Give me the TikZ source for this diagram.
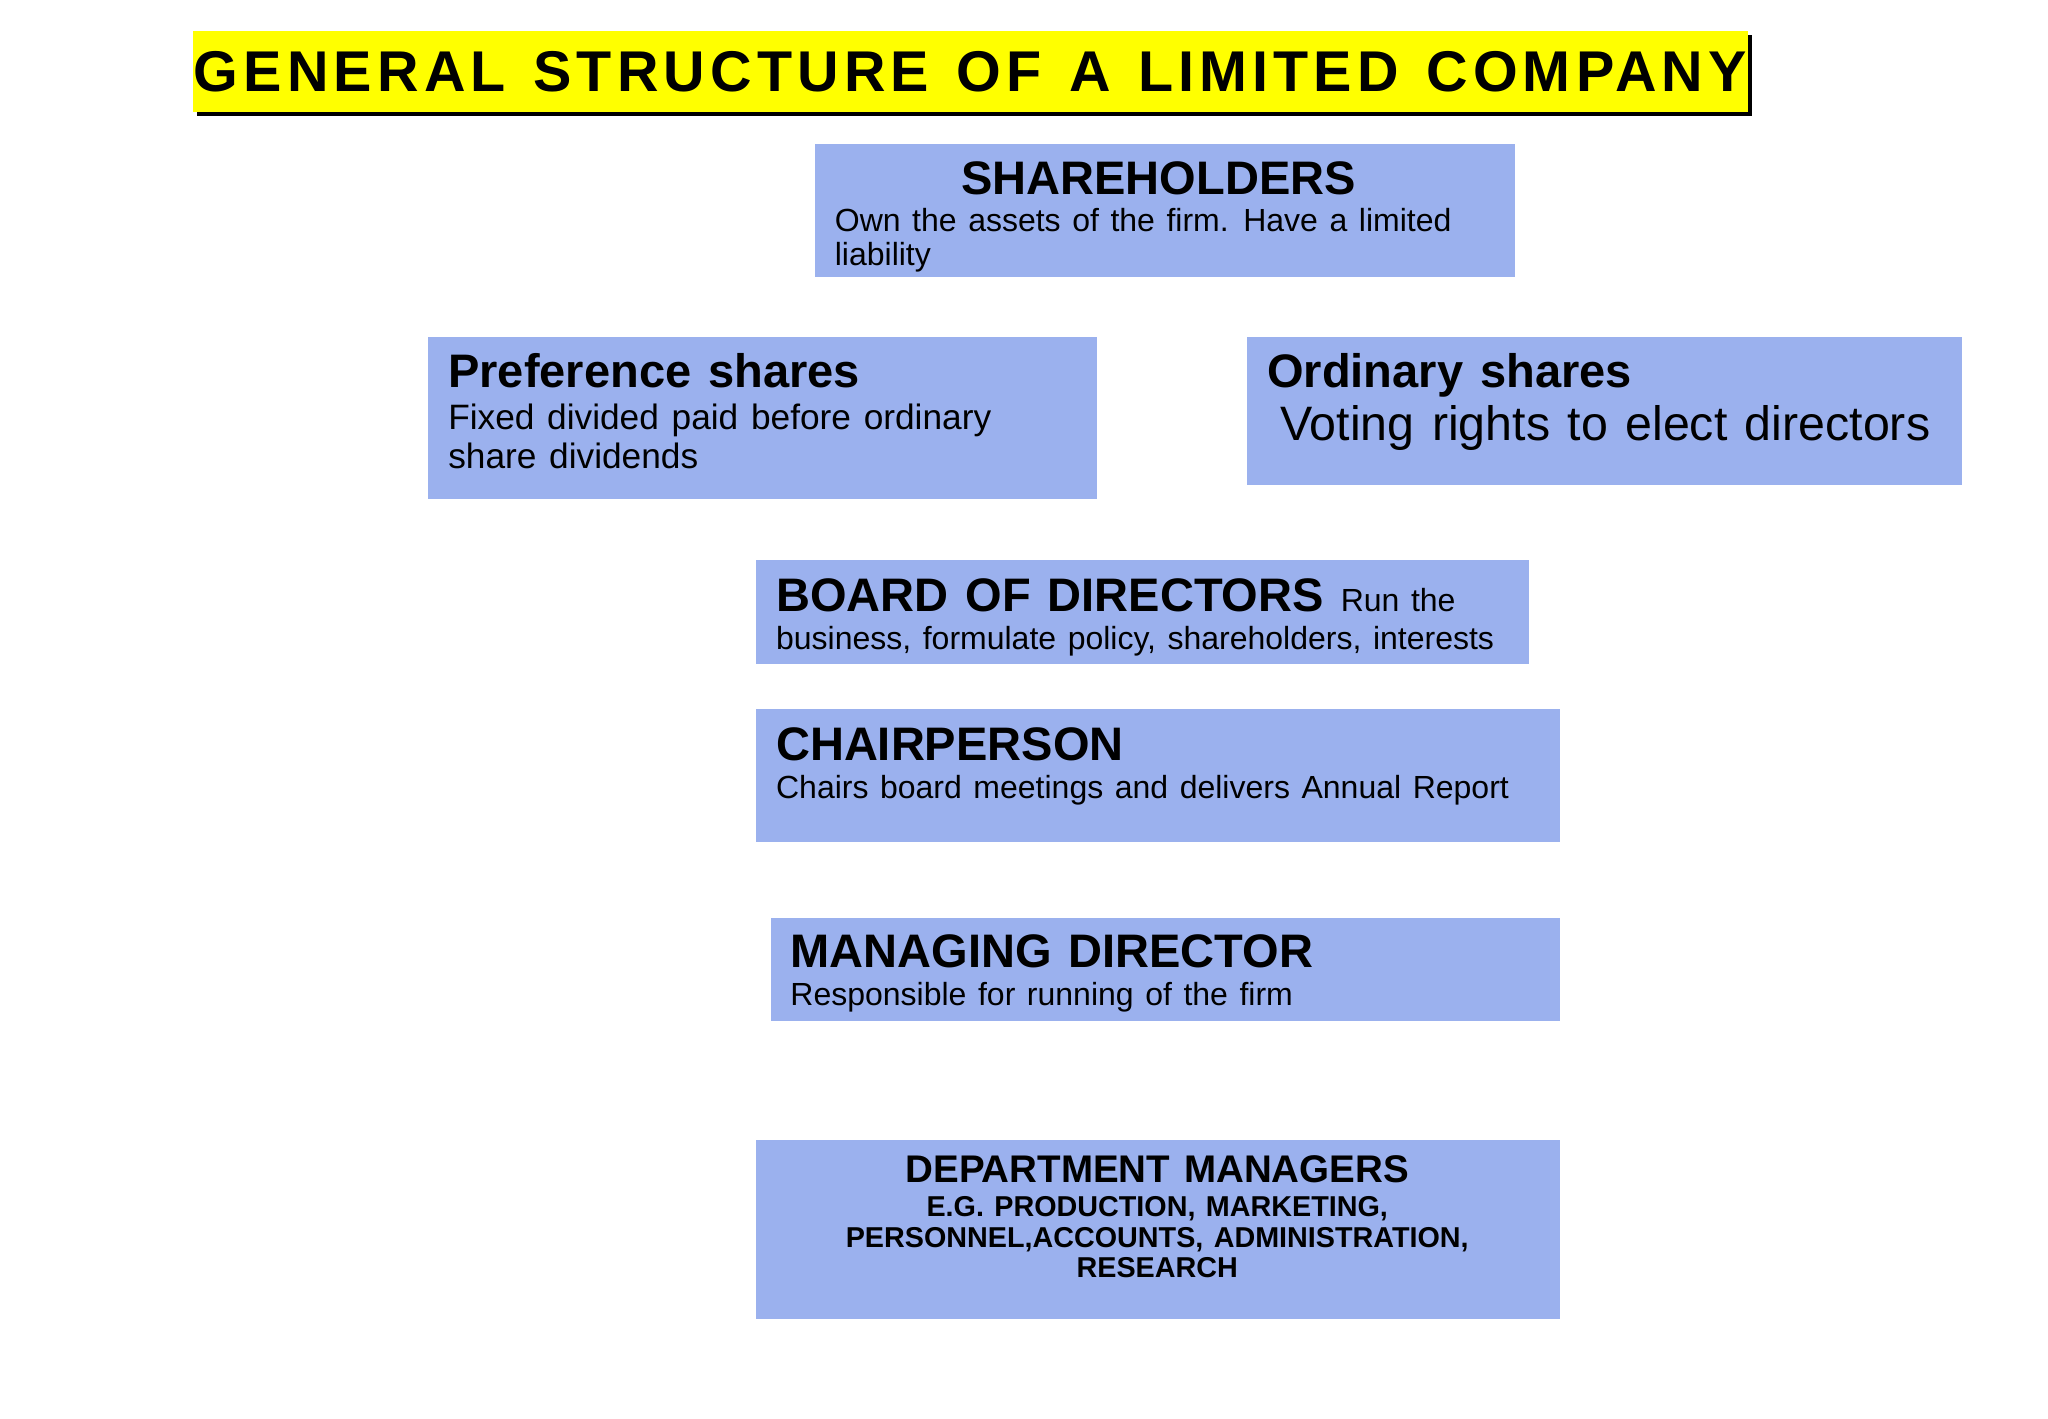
\documentclass[tikz,border=0pt]{standalone}
\usepackage{fontspec}
\setmainfont{Liberation Sans}[WordSpace=1.3]
\definecolor{bx}{HTML}{9BB1EE}
\definecolor{yl}{HTML}{FFFF00}
\begin{document}
\begin{tikzpicture}[x=1pt,y=-1pt,
  box/.style={fill=bx,draw=none},
  t/.style={anchor=base west,inner sep=0pt},
  tc/.style={anchor=base,inner sep=0pt},
  hd/.style={font=\fontsize{36}{40}\selectfont\bfseries},
  bd/.style={font=\fontsize{24.5}{28}\selectfont}]
\useasboundingbox (0,0) rectangle (1568,1086);
\fill[black] (151,27) rectangle (1341,89);
\fill[yl] (148,24) rectangle (1338,86);
\node[inner sep=0pt] (title) at (743,55) {\fontsize{44}{46}\selectfont\bfseries\addfontfeature{LetterSpace=9}GENERAL STRUCTURE OF A LIMITED COMPANY};
% shareholders
\fill[box] (624,110) rectangle (1160,212);
\node[tc,hd] (sht) at (887,149) {SHAREHOLDERS};
\node[t,bd] (shb1) at (639,177) {Own the assets of the firm. Have a limited};
\node[t,bd] (shb2) at (639,203) {liability};
% preference
\fill[box] (328,258) rectangle (840,382);
\node[t,hd] (pre) at (343,297) {Preference shares};
\node[t,font=\fontsize{27}{30}\selectfont] (pre1) at (343,329) {Fixed divided paid before ordinary};
\node[t,font=\fontsize{27}{30}\selectfont] (pre2) at (343,359) {share dividends};
% ordinary
\fill[box] (955,258) rectangle (1502,371);
\node[t,hd] (ord) at (970,297) {Ordinary shares};
\node[t,font=\fontsize{37}{40}\selectfont] (ord1) at (980,337) {Voting rights to elect directors};
% board
\fill[box] (579,429) rectangle (1171,508);
\node[t] (brd) at (594,468) {\fontsize{36}{40}\selectfont\bfseries BOARD OF DIRECTORS \fontsize{24.5}{28}\selectfont\mdseries Run the};
\node[t,bd] (brd1) at (594,497) {business, formulate policy, shareholders, interests};
% chair
\fill[box] (579,543) rectangle (1194,645);
\node[t,hd] (chr) at (594,582) {CHAIRPERSON};
\node[t,bd] (chr1) at (594,611) {Chairs board meetings and delivers Annual Report};
% managing
\fill[box] (590,703) rectangle (1194,782);
\node[t,hd] (mng) at (605,741) {MANAGING DIRECTOR};
\node[t,bd] (mng1) at (605,770) {Responsible for running of the firm};
% department
\fill[box] (579,873) rectangle (1194,1010);
\node[tc,font=\fontsize{29.5}{32}\selectfont\bfseries] (dep) at (886,905) {DEPARTMENT MANAGERS};
\node[tc,font=\fontsize{22}{24}\selectfont\bfseries] (dep1) at (886,931) {E.G. PRODUCTION, MARKETING,};
\node[tc,font=\fontsize{22}{24}\selectfont\bfseries] (dep2) at (886,955) {PERSONNEL,ACCOUNTS, ADMINISTRATION,};
\node[tc,font=\fontsize{22}{24}\selectfont\bfseries] (dep3) at (886,978) {RESEARCH};
\end{tikzpicture}
\end{document}
